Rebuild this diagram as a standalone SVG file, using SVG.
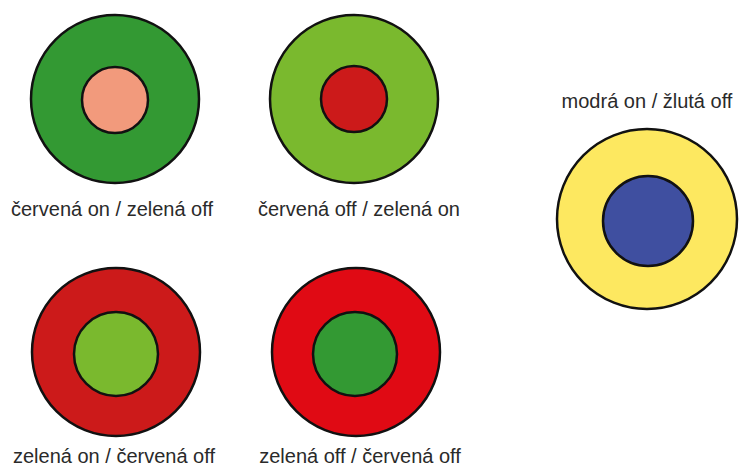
<svg xmlns="http://www.w3.org/2000/svg" width="739" height="470" viewBox="0 0 739 470">
<style>
circle { stroke: #111; stroke-width: 2.5; }
text { font-family: "Liberation Sans", Arial, sans-serif; font-size: 20px; fill: #2a2a2a; text-anchor: middle; }
</style>
<rect width="739" height="470" fill="#fff"/>
<g id="red-on-green-off">
<circle cx="115" cy="99" r="84" fill="#339933"/>
<circle cx="115" cy="100" r="33" fill="#F29A7C"/>
<text x="112" y="216">červená on / zelená off</text>
</g>
<g id="red-off-green-on">
<circle cx="354" cy="99" r="84" fill="#7AB92E"/>
<circle cx="354" cy="99" r="33" fill="#CC1A1A"/>
<text x="359" y="216">červená off / zelená on</text>
</g>
<g id="blue-on-yellow-off">
<circle cx="647" cy="219" r="90" fill="#FDE860"/>
<circle cx="648" cy="221" r="45" fill="#3F4FA0"/>
<text x="647" y="108">modrá on / žlutá off</text>
</g>
<g id="green-on-red-off">
<circle cx="116" cy="352" r="84" fill="#CC1A1A"/>
<circle cx="116" cy="354" r="42" fill="#7AB92E"/>
<text x="114" y="463">zelená on / červená off</text>
</g>
<g id="green-off-red-off">
<circle cx="356" cy="352" r="84" fill="#E00A14"/>
<circle cx="355" cy="354" r="42" fill="#339933"/>
<text x="360" y="463">zelená off / červená off</text>
</g>
</svg>
